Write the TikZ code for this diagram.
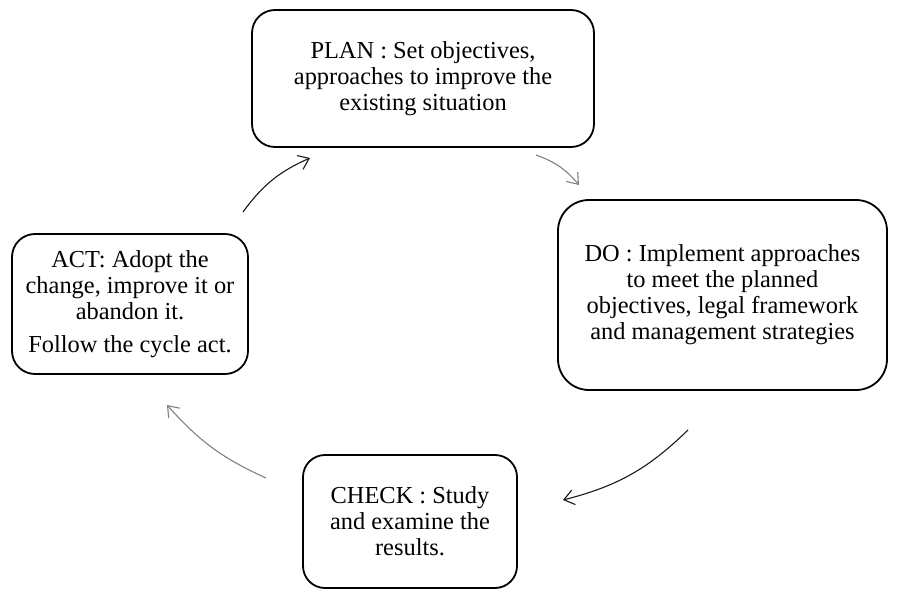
\documentclass[tikz,border=0pt]{standalone}
\usepackage{fontspec}
\setmainfont{Liberation Serif}
\usetikzlibrary{arrows.meta}
\begin{document}
\begin{tikzpicture}[x=1pt,y=-1pt,
  box/.style={draw=black, line width=1.8pt, fill=white, align=center, inner sep=2pt,
    font=\fontsize{24.4}{26}\selectfont},
  cyc/.style={line width=1.1pt, -{Straight Barb[length=10pt,width=15pt,line width=1.1pt]}},
  blk/.style={cyc, draw=black!90},
  gry/.style={cyc, draw=black!50},
]
\useasboundingbox (0,0) rectangle (897,591);
\node[box, rounded corners=23pt, minimum width=342pt, minimum height=137pt] (plan) at (423,78.5)
  {PLAN : Set objectives,\\approaches to improve the\\existing situation};
\node[box, rounded corners=31pt, minimum width=329pt, minimum height=190pt] (do) at (722.5,295)
  {DO : Implement approaches\\to meet the planned\\objectives, legal framework\\and management strategies};
\node[box, rounded corners=22pt, minimum width=214pt, minimum height=133pt] (check) at (410,521.5)
  {CHECK : Study\\and examine the\\results.};
\node[box, rounded corners=23pt, minimum width=236pt, minimum height=140pt] (act) at (130,304)
  {ACT: Adopt the\\change, improve it or\\abandon it.\\[7pt]Follow the cycle act.};
\coordinate (a1) at (243,212);
\coordinate (a2) at (310,158);
\coordinate (b1) at (536,155);
\coordinate (b2) at (579,185);
\coordinate (c1) at (688,430);
\coordinate (c2) at (563,500);
\coordinate (d1) at (266,478);
\coordinate (d2) at (167,405);
\draw[blk] (a1) to[bend left=15] (a2);
\draw[gry] (b1) to[bend left=15] (b2);
\draw[blk] (c1) to[bend left=15] (c2);
\draw[gry] (d1) to[bend left=12] (d2);
\end{tikzpicture}
\end{document}
